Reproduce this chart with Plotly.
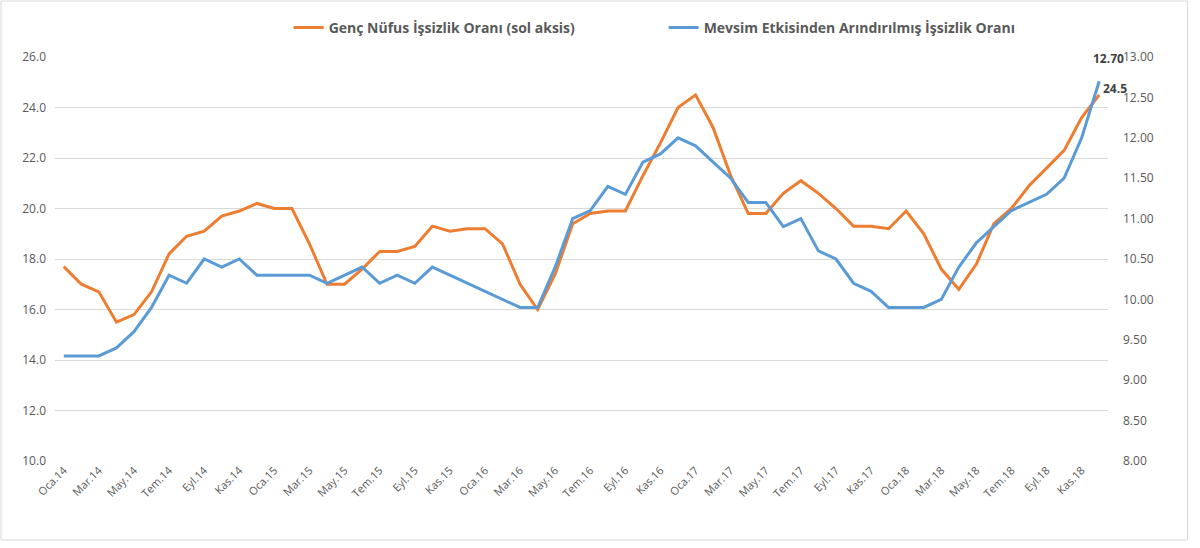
import plotly.graph_objects as go

months = ["Oca", "Şub", "Mar", "Nis", "May", "Haz", "Tem", "Ağu", "Eyl", "Eki", "Kas", "Ara"]
years = ["14", "15", "16", "17", "18"]
categories = [f"{m}.{y}" for y in years for m in months]

genc_nufus = [
    17.7, 17.0, 16.7, 15.5, 15.8, 16.7, 18.2, 18.9, 19.1, 19.7, 19.9, 20.2,
    20.0, 20.0, 18.6, 17.0, 17.0, 17.6, 18.3, 18.3, 18.5, 19.3, 19.1, 19.2,
    19.2, 18.6, 17.0, 16.0, 17.4, 19.4, 19.8, 19.9, 19.9, 21.3, 22.6, 24.0,
    24.5, 23.2, 21.3, 19.8, 19.8, 20.6, 21.1, 20.6, 20.0, 19.3, 19.3, 19.2,
    19.9, 19.0, 17.6, 16.8, 17.8, 19.4, 20.0, 20.9, 21.6, 22.3, 23.6, 24.5,
]
mevsim = [
    9.3, 9.3, 9.3, 9.4, 9.6, 9.9, 10.3, 10.2, 10.5, 10.4, 10.5, 10.3,
    10.3, 10.3, 10.3, 10.2, 10.3, 10.4, 10.2, 10.3, 10.2, 10.4, 10.3, 10.2,
    10.1, 10.0, 9.9, 9.9, 10.4, 11.0, 11.1, 11.4, 11.3, 11.7, 11.8, 12.0,
    11.9, 11.7, 11.5, 11.2, 11.2, 10.9, 11.0, 10.6, 10.5, 10.2, 10.1, 9.9,
    9.9, 9.9, 10.0, 10.4, 10.7, 10.9, 11.1, 11.2, 11.3, 11.5, 12.0, 12.7,
]
name_genc = "Genç Nüfus İşsizlik Oranı (sol aksis)"
name_mevsim = "Mevsim Etkisinden Arındırılmış İşsizlik Oranı"
tick_labels = categories[::2]

FONT = "Open Sans"
GREY = "#595959"

fig = go.Figure()
fig.add_trace(go.Scatter(x=categories, y=genc_nufus, name=name_genc, mode="lines",
                         line=dict(color="#ED7D31", width=3), yaxis="y"))
fig.add_trace(go.Scatter(x=categories, y=mevsim, name=name_mevsim, mode="lines",
                         line=dict(color="#5B9BD5", width=3), yaxis="y2"))

fig.add_annotation(x=categories[-1], y=mevsim[-1], yref="y2", text=f"<b>{mevsim[-1]:.2f}</b>",
                   showarrow=False, xanchor="right", yanchor="middle", xshift=27, yshift=23,
                   font=dict(family=FONT, size=12, color="#404040"))
fig.add_annotation(x=categories[-1], y=genc_nufus[-1], yref="y", text=f"<b>{genc_nufus[-1]:.1f}</b>",
                   showarrow=False, xanchor="left", yanchor="middle", xshift=2, yshift=6,
                   font=dict(family=FONT, size=12, color="#404040"))

fig.add_shape(type="rect", xref="paper", yref="paper", x0=-0.0513, x1=1.0755, y0=-0.1955, y1=1.1386,
              line=dict(color="#D9D9D9", width=1), fillcolor="rgba(0,0,0,0)", layer="below")

fig.update_layout(
    width=1200, height=548,
    margin=dict(l=55, r=92, t=57, b=87),
    paper_bgcolor="white", plot_bgcolor="white",
    font=dict(family=FONT, color=GREY),
    showlegend=True,
    legend=dict(orientation="h", x=0.578, xanchor="center", y=1.072, yanchor="middle",
                font=dict(family=FONT, size=14, color=GREY, weight="bold"),
                entrywidth=330, itemwidth=30),
    xaxis=dict(type="category", range=[-0.5, 59.5], tickvals=tick_labels, ticktext=tick_labels,
               tickangle=-45, tickfont=dict(family=FONT, size=11, color=GREY),
               showgrid=False, showline=False, ticks="", zeroline=False),
    yaxis=dict(range=[10, 26], dtick=2, tickformat=".1f", showgrid=True, gridcolor="#D9D9D9",
               gridwidth=1, zeroline=False, showline=False, ticks="", ticklabelstandoff=8,
               tickfont=dict(family=FONT, size=12, color=GREY)),
    yaxis2=dict(range=[8, 13], dtick=0.5, tickformat=".2f", overlaying="y", side="right",
                showgrid=False, zeroline=False, showline=False, ticks="", ticklabelstandoff=14,
                tickfont=dict(family=FONT, size=12, color=GREY)),
)

fig.write_html("out.html", config={"displayModeBar": False},
               post_script="document.body.style.margin='0';document.body.style.padding='0';")
